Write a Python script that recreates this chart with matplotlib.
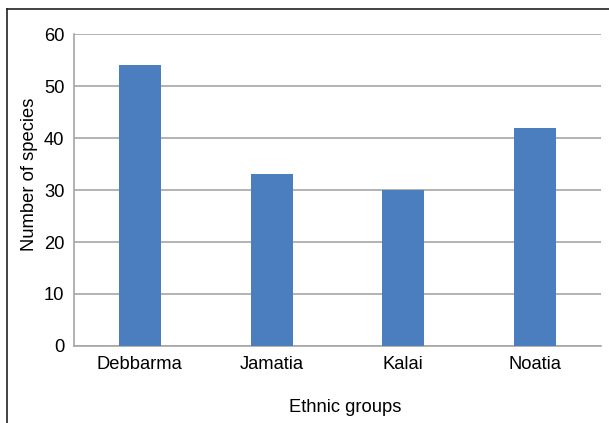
import matplotlib
matplotlib.use("Agg")
import matplotlib.pyplot as plt
from matplotlib.lines import Line2D

groups = ["Debbarma", "Jamatia", "Kalai", "Noatia"]
species = [54, 33, 30, 42]
yticks = [0, 10, 20, 30, 40, 50, 60]

plt.rcParams["font.family"] = ["Liberation Sans", "DejaVu Sans"]

W, H = 609, 423
fig = plt.figure(figsize=(W / 100, H / 100), dpi=100)
ax = fig.add_axes([74 / W, 1 - 346 / H, (601 - 74) / W, (346 - 34) / H])

x = range(len(groups))
ax.bar(x, species, width=0.32, color="#4a7ebf", zorder=3)
ax.set_xlim(-0.5, len(groups) - 0.5)
ax.set_ylim(0, 60)
ax.set_yticks(yticks)
ax.set_xticks(list(x))
ax.set_xticklabels(groups)
ax.tick_params(axis="both", length=0, labelsize=13.2, colors="black")
ax.tick_params(axis="y", pad=7)
ax.tick_params(axis="x", pad=7)
ax.grid(axis="y", color="#a6a6a6", linewidth=1.2, zorder=0)
for s in ["top", "right"]:
    ax.spines[s].set_visible(False)
for s in ["left", "bottom"]:
    ax.spines[s].set_color("#a6a6a6")
    ax.spines[s].set_linewidth(1.2)

ax.set_ylabel("Number of species", fontsize=13.2)
ax.yaxis.set_label_coords(-0.069, 0.55)
ax.set_xlabel("Ethnic groups", fontsize=13.2, labelpad=19)
ax.xaxis.label.set_x(0.514)

# frame lines along the top and left edges of the figure
fig.add_artist(Line2D([7 / W, 1], [1 - 9 / H, 1 - 9 / H], color="#222222", linewidth=1.2,
                      transform=fig.transFigure))
fig.add_artist(Line2D([7 / W, 7 / W], [0, 1 - 9 / H], color="#222222", linewidth=1.2,
                      transform=fig.transFigure))

fig.savefig("out.png", dpi=100)
